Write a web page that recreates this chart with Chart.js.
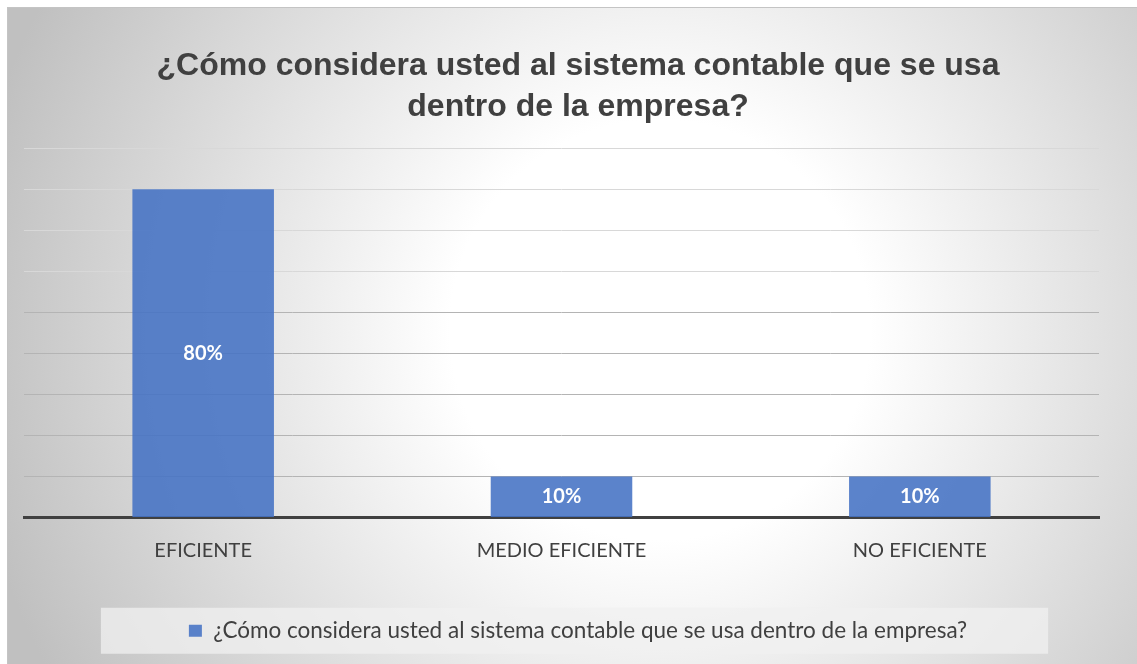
<!DOCTYPE html>
<html>
<head>
    <meta charset="utf-8">
    <title>Sistema contable</title>
    <script src="https://cdn.jsdelivr.net/npm/chart.js@4.4.0/dist/chart.umd.min.js"></script>
    <style>
      html, body { margin: 0; padding: 0; background: #ffffff; }
      #wrap { width: 1137px; height: 664px; position: relative; }
    </style>
</head>
<body>
    <div id="wrap"><canvas id="myChart"></canvas></div>
    <script>
      var question = '¿Cómo considera usted al sistema contable que se usa dentro de la empresa?';
      var titleLines = ['¿Cómo considera usted al sistema contable que se usa', 'dentro de la empresa?'];
      var categories = ['EFICIENTE', 'MEDIO EFICIENTE', 'NO EFICIENTE'];
      var percents = [80, 10, 10];

      var labelFont = 'Lato, "Open Sans", sans-serif';

      // gray radial backdrop with a thin frame, plus the pale legend strip
      var backdrop = {
        id: 'backdrop',
        beforeDraw: function(chart) {
          var c = chart.ctx, w = chart.width, h = chart.height;
          c.save();
          c.fillStyle = '#ffffff';
          c.fillRect(0, 0, w, h);
          var g = c.createRadialGradient(660, 330, 0, 660, 330, 700);
          g.addColorStop(0, '#ffffff');
          g.addColorStop(0.3, '#ffffff');
          g.addColorStop(1, '#c0c0c0');
          c.fillStyle = g;
          c.fillRect(7, 7, w - 7, h - 7);
          c.strokeStyle = '#c4c4c4';
          c.lineWidth = 1;
          c.strokeRect(7.5, 7.5, w, h);
          var hb = chart.legend && chart.legend.legendHitBoxes;
          if (hb && hb.length) {
            var first = hb[0], last = hb[hb.length - 1];
            var cy = first.top + first.height / 2;
            var x0 = first.left - 88, x1 = last.left + last.width + 81;
            c.fillStyle = 'rgba(240,240,240,0.75)';
            c.fillRect(x0, cy - 23, x1 - x0, 46);
          }
          c.restore();
        }
      };

      // white percentage text in the middle of each bar
      var barText = {
        id: 'barText',
        afterDatasetsDraw: function(chart) {
          var c = chart.ctx;
          var meta = chart.getDatasetMeta(0);
          c.save();
          c.fillStyle = '#ffffff';
          c.font = 'bold 20px ' + labelFont;
          c.textAlign = 'center';
          c.textBaseline = 'middle';
          meta.data.forEach(function(bar, i) {
            c.fillText(percents[i] + '%', bar.x, (bar.y + bar.base) / 2);
          });
          c.restore();
        }
      };

      var ctx = document.getElementById('myChart').getContext('2d');
      var myChart = new Chart(ctx, {
          type: 'bar',
          data: {
              labels: categories,
              datasets: [{
                  label: question,
                  data: percents,
                  backgroundColor: 'rgba(68,114,196,0.88)',
                  borderWidth: 0,
                  categoryPercentage: 0.395,
                  barPercentage: 1
              }]
          },
          options: {
              responsive: true,
              maintainAspectRatio: false,
              animation: false,
              layout: { padding: { left: 24, right: 5, top: 0, bottom: 12 } },
              plugins: {
                  title: {
                      display: true,
                      text: titleLines,
                      color: '#404040',
                      font: { family: '"Liberation Sans", Arial, sans-serif', size: 32, weight: 'bold', lineHeight: 1.3 },
                      padding: { top: 45, bottom: 20 }
                  },
                  legend: {
                      position: 'bottom',
                      labels: {
                          color: '#404040',
                          font: { family: labelFont, size: 22.5 },
                          boxWidth: 13,
                          boxHeight: 12,
                          padding: 20
                      }
                  },
                  tooltip: { enabled: false }
              },
              scales: {
                  x: {
                      grid: { display: false },
                      border: { display: true, color: '#404040', width: 3 },
                      ticks: {
                          color: '#404040',
                          font: { family: labelFont, size: 20 },
                          padding: 13
                      },
                      afterFit: function(scale) { scale.height += 24; }
                  },
                  y: {
                      position: 'right',
                      min: 0,
                      max: 90,
                      ticks: { display: false, stepSize: 10 },
                      border: { display: false },
                      afterFit: function(scale) { scale.width = 33; },
                      grid: {
                          drawTicks: false,
                          lineWidth: 1,
                          color: function(c) {
                              if (c.tick.value === 0) return 'rgba(0,0,0,0)';
                              return c.tick.value >= 60 ? '#d8d8d8' : '#b4b4b4';
                          }
                      }
                  }
              }
          },
          plugins: [backdrop, barText]
      });
    </script>
  </body>
</html>
